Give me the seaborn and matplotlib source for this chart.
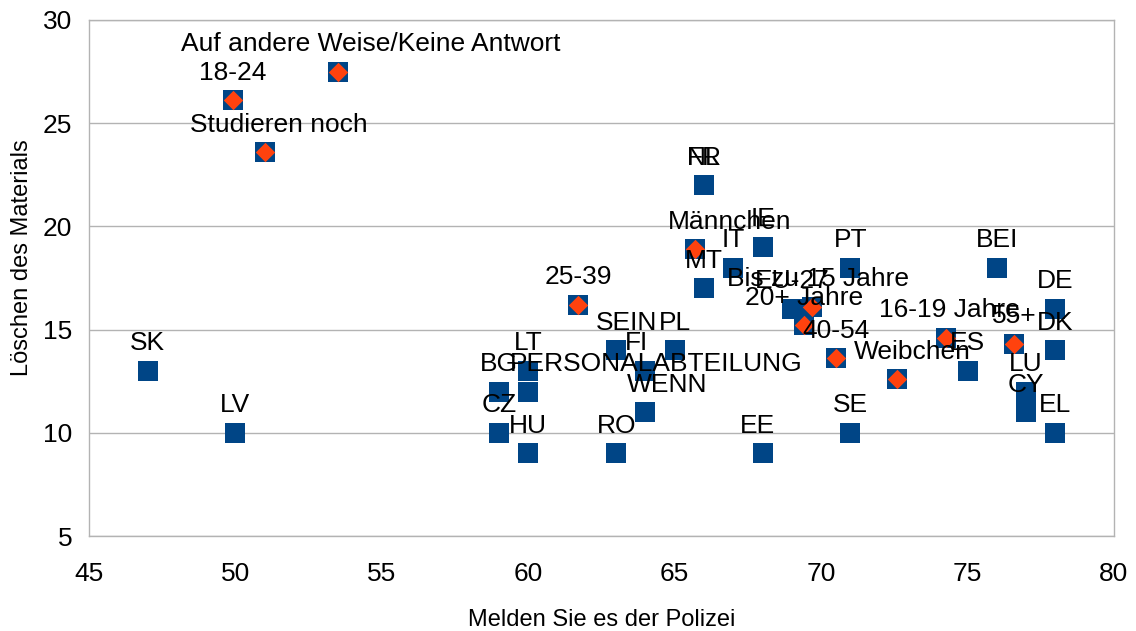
import seaborn as sns
import matplotlib.pyplot as plt
import pandas as pd

# countries (blue squares)
countries = ["SK", "LV", "BG", "CZ", "LT", "PERSONALABTEILUNG", "HU", "RO", "SEIN", "PL",
             "FI", "WENN", "FR", "NL", "MT", "IT", "IE", "EE", "EU-27", "PT", "SE", "ES",
             "BEI", "LU", "CY", "DE", "DK", "EL"]
country_x = [47, 50, 59, 59, 60, 60, 60, 63, 63, 65,
             64, 64, 66, 66, 66, 67, 68, 68, 69, 71, 71, 75,
             76, 77, 77, 78, 78, 78]
country_y = [13, 10, 12, 10, 13, 12, 9, 9, 14, 14,
             13, 11, 22, 22, 17, 18, 19, 9, 16, 18, 10, 13,
             18, 12, 11, 16, 14, 10]

# socio-demographic groups (orange diamonds)
groups = ["Auf andere Weise/Keine Antwort", "18-24", "Studieren noch", "25-39", "Männchen",
          "Bis zu 15 Jahre", "20+ Jahre", "40-54", "Weibchen", "16-19 Jahre", "55+"]
group_x = [53.5, 49.9, 51.0, 61.7, 65.7, 69.7, 69.4, 70.5, 72.6, 74.25, 76.6]
group_y = [27.5, 26.1, 23.6, 16.2, 18.9, 16.1, 15.2, 13.6, 12.6, 14.6, 14.3]

# horizontal shift of some labels (pixels), as placed in the original chart
label_shift = {"Auf andere Weise/Keine Antwort": 33, "Studieren noch": 14, "Männchen": 34,
               "WENN": 22, "Weibchen": 15, "PERSONALABTEILUNG": 128, "SEIN": 10,
               "Bis zu 15 Jahre": 6, "FI": -9, "16-19 Jahre": 4, "EE": -5}

BLUE = "#004586"
ORANGE = "#ff420e"
GRID = "#b3b3b3"


def main():
    sns.set_theme(style="white")
    plt.rcParams["font.family"] = ["Liberation Sans", "DejaVu Sans"]

    df_all = pd.DataFrame({"x": country_x + group_x, "y": country_y + group_y,
                           "label": countries + groups})
    df_grp = pd.DataFrame({"x": group_x, "y": group_y, "label": groups})

    fig = plt.figure(figsize=(11.36, 6.31), dpi=100)
    ax = fig.add_axes([89 / 1136, 1 - 536 / 631, 1025 / 1136, 516 / 631])

    sns.scatterplot(data=df_all, x="x", y="y", ax=ax, marker="s", s=196,
                    color=BLUE, linewidth=0, zorder=2)
    sns.scatterplot(data=df_grp, x="x", y="y", ax=ax, marker="D", s=98,
                    color=ORANGE, linewidth=0, zorder=3)

    for _, row in df_all.iterrows():
        dx = label_shift.get(row["label"], 0) * 0.72
        ax.annotate(row["label"], (row["x"], row["y"]), xytext=(dx, 14.8),
                    textcoords="offset points", ha="center", va="baseline",
                    fontsize=19, color="black", zorder=4)

    ax.set_xlim(45, 80)
    ax.set_ylim(5, 30)
    ax.set_xticks(range(45, 81, 5))
    ax.set_yticks(range(5, 31, 5))
    ax.yaxis.grid(True, color=GRID, linewidth=1)
    ax.xaxis.grid(False)
    ax.set_axisbelow(True)
    for spine in ax.spines.values():
        spine.set_color(GRID)
        spine.set_linewidth(1)
    ax.tick_params(axis="both", which="major", direction="out", length=8, width=1,
                   color=GRID, labelsize=19, labelcolor="black")
    ax.tick_params(axis="x", pad=11)
    ax.tick_params(axis="y", pad=4)

    ax.set_xlabel("Melden Sie es der Polizei", fontsize=17, va="center", color="black")
    ax.set_ylabel("Löschen des Materials", fontsize=17, va="center", color="black")
    ax.xaxis.set_label_coords(0.5, -0.163)
    ax.yaxis.set_label_coords(-0.065, 0.54)

    fig.savefig("out.png", dpi=100)


if __name__ == '__main__':
    main()
